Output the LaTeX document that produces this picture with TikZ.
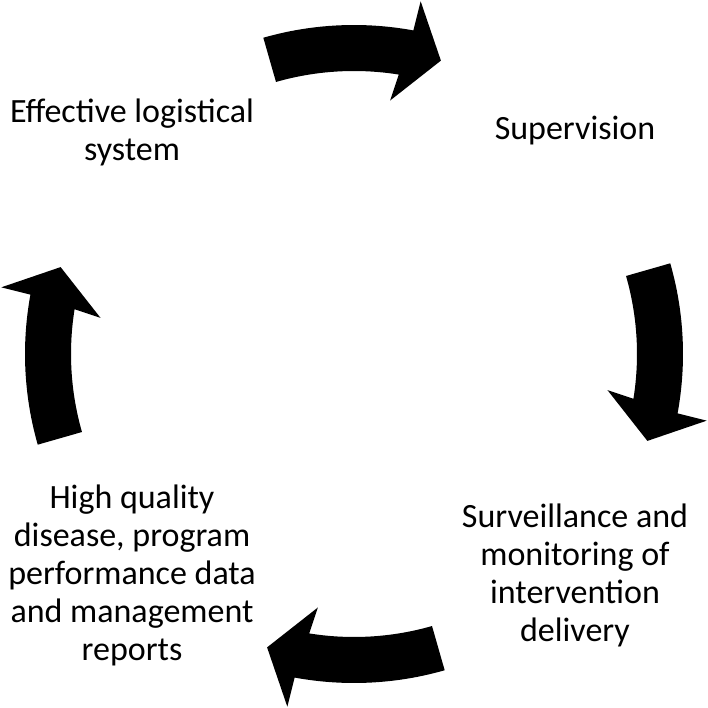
\documentclass[tikz,border=0pt]{standalone}
\usepackage{fontspec}
\setmainfont{Carlito}

\def\outrad{329}
\def\inrad{283}

\begin{document}
\begin{tikzpicture}[x=0.5pt,y=0.5pt]
\tikzstyle{phase}=[align=center,font=\fontsize{17}{19}\selectfont,inner sep=0pt]
\tikzstyle{cycle arrow}=[fill=black,draw=none]
\useasboundingbox (0,0) rectangle (708,708);

% Write the stage labels
\node[phase] (logistics) at (132,575.5) {Effective logistical\\system};
\node[phase] (supervision) at (575,577) {Supervision};
\node[phase] (surveillance) at (575,133) {Surveillance and\\monitoring of\\intervention\\delivery};
\node[phase] (reports) at (132,133) {High quality\\disease, program\\performance data\\and management\\reports};

% Draw the curved arrows between the stages
\foreach \a in {90,0,-90,-180}
\fill[cycle arrow,shift={(354,354)}] (\a+16:\outrad)
  arc[start angle=\a+16,end angle=\a-10.4,radius=\outrad]
  -- (\a-10.7:359) -- (\a-16.5:306) -- (\a-8.1:256) -- (\a-9.1:\inrad)
  arc[start angle=\a-9.1,end angle=\a+16,radius=\inrad] -- cycle;

\end{tikzpicture}
\end{document}
